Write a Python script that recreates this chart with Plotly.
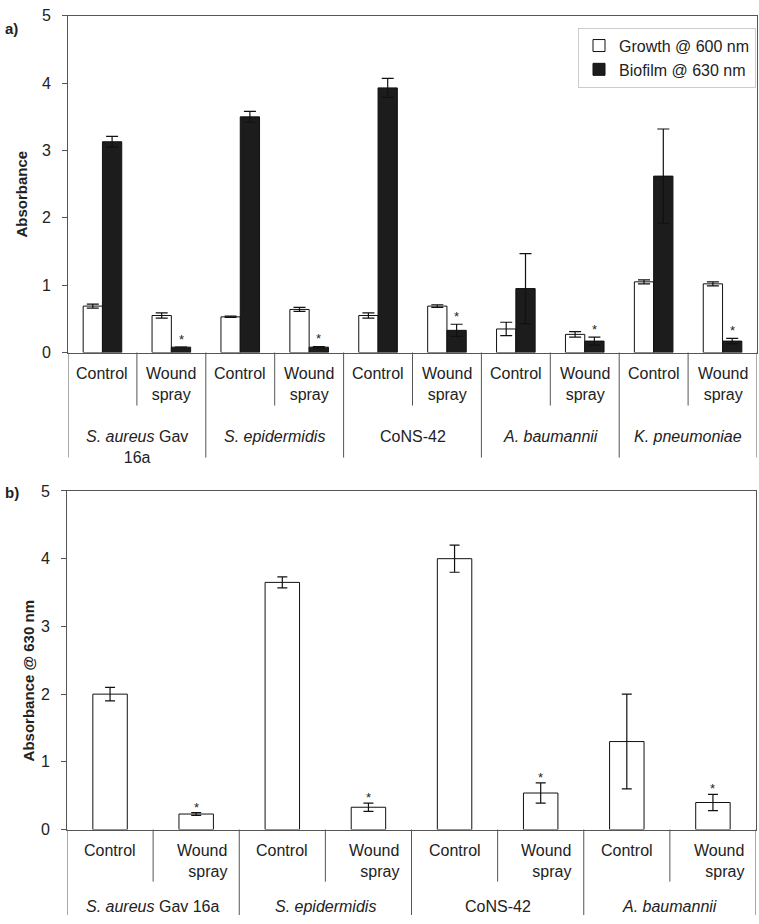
import plotly.graph_objects as go

# panel a: growth and biofilm per species / treatment
species_a = ["<i>S. aureus</i> Gav<br>16a", "<i>S. epidermidis</i>", "CoNS-42",
             "<i>A. baumannii</i>", "<i>K. pneumoniae</i>"]
treatments = ["Control", "Wound<br>spray"]
growth_a = [0.69, 0.55, 0.53, 0.64, 0.55, 0.69, 0.35, 0.27, 1.05, 1.02]
growth_err_a = [0.03, 0.04, 0.01, 0.03, 0.04, 0.02, 0.10, 0.04, 0.03, 0.03]
biofilm_a = [3.13, 0.08, 3.50, 0.08, 3.93, 0.33, 0.95, 0.17, 2.62, 0.17]
biofilm_err_a = [0.08, 0.0, 0.08, 0.01, 0.14, 0.09, 0.52, 0.06, 0.70, 0.04]
signif_a = [False, True, False, True, False, True, False, True, False, True]

# panel b: biofilm @ 630 nm
species_b = ["<i>S. aureus</i> Gav 16a", "<i>S. epidermidis</i>", "CoNS-42", "<i>A. baumannii</i>"]
biofilm_b = [2.0, 0.23, 3.65, 0.33, 4.0, 0.54, 1.3, 0.40]
biofilm_err_b = [0.10, 0.02, 0.08, 0.06, 0.20, 0.15, 0.70, 0.12]
signif_b = [False, True, False, True, False, True, False, True]

W, H = 759, 924
FONT = "Liberation Sans, Arial, sans-serif"
INK = "#222222"
LINE = "#555555"


def px_x(p):
    return p / W


def px_y(p):
    return 1 - p / H


xa = list(range(len(growth_a)))
xb = list(range(len(biofilm_b)))

fig = go.Figure()

fig.add_trace(go.Bar(
    x=xa, y=growth_a, name="Growth @ 600 nm",
    width=0.28, offset=-0.28,
    marker=dict(color="white", line=dict(color="#111111", width=1)),
    error_y=dict(type="data", array=growth_err_a, color="#111111", thickness=1.2, width=6),
    xaxis="x", yaxis="y",
))
fig.add_trace(go.Bar(
    x=xa, y=biofilm_a, name="Biofilm @ 630 nm",
    width=0.28, offset=0,
    marker=dict(color="#1c1c1c", line=dict(color="#111111", width=1)),
    error_y=dict(type="data", array=biofilm_err_a, color="#111111", thickness=1.2, width=6),
    xaxis="x", yaxis="y",
))
fig.add_trace(go.Bar(
    x=xb, y=biofilm_b, showlegend=False,
    width=0.4, offset=-0.2,
    marker=dict(color="white", line=dict(color="#111111", width=1)),
    error_y=dict(type="data", array=biofilm_err_b, color="#111111", thickness=1.2, width=5),
    xaxis="x2", yaxis="y2",
))

annotations = []
shapes = []

# significance stars
for i, s in enumerate(signif_a):
    if s:
        annotations.append(dict(x=i + 0.14, y=biofilm_a[i] + biofilm_err_a[i], xref="x", yref="y",
                                text="*", showarrow=False, yanchor="bottom", yshift=-2,
                                font=dict(size=13, color=INK)))
for i, s in enumerate(signif_b):
    if s:
        annotations.append(dict(x=i, y=biofilm_b[i] + biofilm_err_b[i], xref="x2", yref="y2",
                                text="*", showarrow=False, yanchor="bottom", yshift=-4,
                                font=dict(size=13, color=INK)))

# category labels panel a
for i in xa:
    annotations.append(dict(x=i, y=px_y(362), xref="x", yref="paper", text=treatments[i % 2],
                            showarrow=False, yanchor="top", align="center",
                            font=dict(size=16, color=INK, family=FONT)))
    if i % 2 == 0:
        shapes.append(dict(type="line", xref="x", yref="paper", x0=i + 0.5, x1=i + 0.5,
                           y0=px_y(351), y1=px_y(405), line=dict(color=LINE, width=1)))
for k, sp in enumerate(species_a):
    annotations.append(dict(x=2 * k + 0.5, y=px_y(426), xref="x", yref="paper", text=sp,
                            showarrow=False, yanchor="top", align="center",
                            font=dict(size=16, color=INK, family=FONT)))
for k in range(len(species_a) + 1):
    shapes.append(dict(type="line", xref="x", yref="paper", x0=2 * k - 0.5, x1=2 * k - 0.5,
                       y0=px_y(351), y1=px_y(458), line=dict(color=LINE, width=1)))

# category labels panel b
for i in xb:
    annotations.append(dict(x=i + (0 if i % 2 == 0 else 0.38), y=px_y(848), xref="x2", yref="paper",
                            text=treatments[i % 2], showarrow=False, yanchor="top",
                            xanchor="center" if i % 2 == 0 else "right",
                            align="center" if i % 2 == 0 else "right",
                            font=dict(size=16, color=INK, family=FONT)))
    if i % 2 == 0:
        shapes.append(dict(type="line", xref="x2", yref="paper", x0=i + 0.5, x1=i + 0.5,
                           y0=px_y(837), y1=px_y(890), line=dict(color=LINE, width=1)))
for k, sp in enumerate(species_b):
    annotations.append(dict(x=2 * k + 0.5, y=px_y(905), xref="x2", yref="paper", text=sp,
                            showarrow=False, yanchor="top",
                            font=dict(size=16, color=INK, family=FONT)))
for k in range(len(species_b) + 1):
    shapes.append(dict(type="line", xref="x2", yref="paper", x0=2 * k - 0.5, x1=2 * k - 0.5,
                       y0=px_y(837), y1=0.0, line=dict(color=LINE, width=1)))

# axis titles and panel letters
annotations += [
    dict(x=px_x(22), y=px_y(190), xref="paper", yref="paper", text="<b>Absorbance</b>",
         textangle=-90, showarrow=False, xanchor="center", yanchor="middle",
         font=dict(size=15, color=INK, family=FONT)),
    dict(x=px_x(28), y=px_y(686), xref="paper", yref="paper",
         text="<b>Absorbance @ 630 nm</b>", textangle=-90, showarrow=False,
         xanchor="center", yanchor="middle", font=dict(size=15, color=INK, family=FONT)),
    dict(x=px_x(3), y=px_y(10), xref="paper", yref="paper", text="<b>a)</b>", showarrow=False,
         xanchor="left", font=dict(size=15, color=INK, family=FONT)),
    dict(x=px_x(3), y=px_y(494), xref="paper", yref="paper", text="<b>b)</b>", showarrow=False,
         xanchor="left", font=dict(size=15, color=INK, family=FONT)),
]

xaxis_common = dict(showline=True, linecolor=LINE, linewidth=1, mirror=True, showgrid=False,
                    zeroline=False, showticklabels=False, ticks="", fixedrange=True)
yaxis_common = dict(showline=True, linecolor=LINE, linewidth=1, mirror=True, showgrid=False,
                    zeroline=False, range=[0, 5], dtick=1, ticks="outside", ticklen=5,
                    tickcolor=LINE, tickfont=dict(size=16, color=INK, family=FONT), ticklabelstandoff=8)

fig.update_layout(
    width=W, height=H,
    margin=dict(l=0, r=0, t=0, b=0),
    paper_bgcolor="white", plot_bgcolor="white",
    barmode="overlay",
    font=dict(family=FONT, color=INK),
    xaxis=dict(xaxis_common, domain=[px_x(68), px_x(757)], range=[-0.5, 9.5], anchor="y"),
    yaxis=dict(yaxis_common, domain=[px_y(351), px_y(8)], anchor="x"),
    xaxis2=dict(xaxis_common, domain=[px_x(67), px_x(756)], range=[-0.5, 7.5], anchor="y2"),
    yaxis2=dict(yaxis_common, domain=[px_y(837), px_y(492)], anchor="x2"),
    legend=dict(x=px_x(578), y=px_y(20), xanchor="left", yanchor="top",
                bordercolor="#cccccc", borderwidth=1, bgcolor="white",
                font=dict(size=16, color=INK, family=FONT), itemwidth=30,
                tracegroupgap=2),
    annotations=annotations,
    shapes=shapes,
    showlegend=True,
)

# page margin off so the 759x924 figure fills the window exactly
fig.write_html("out.html", config={"displayModeBar": False},
               post_script="document.body.style.margin='0';document.body.style.overflow='hidden';")
